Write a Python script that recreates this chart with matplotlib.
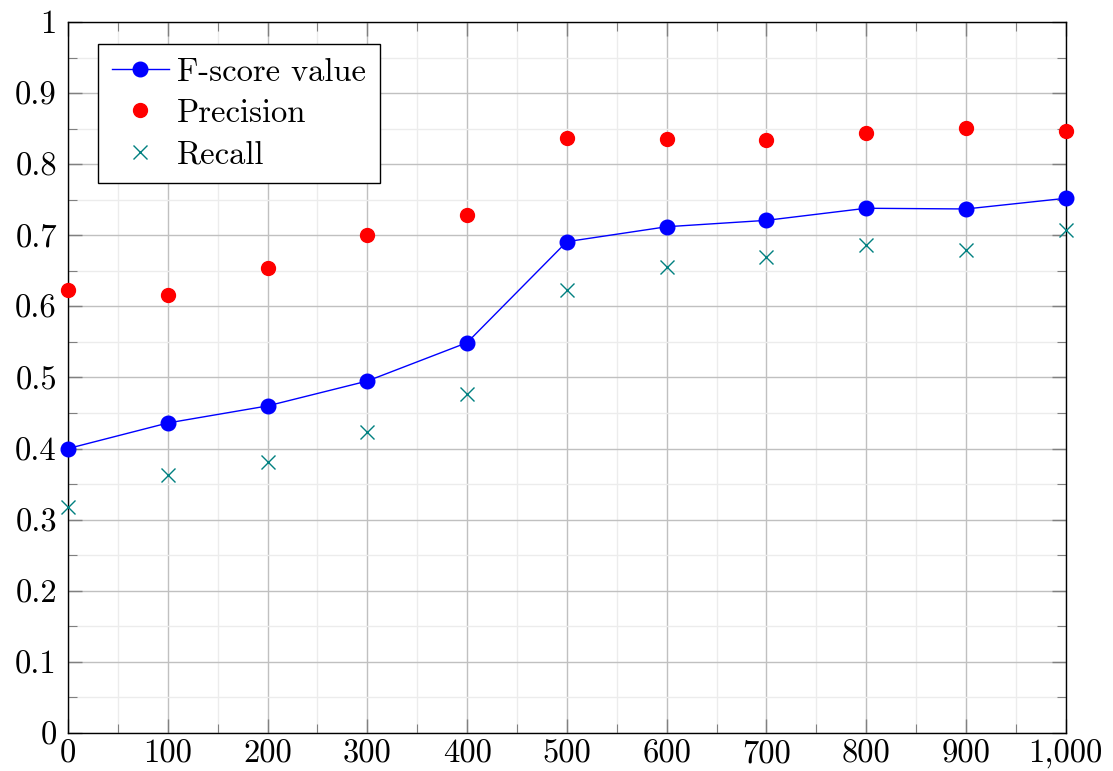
import matplotlib
matplotlib.use("Agg")
import matplotlib.pyplot as plt
from matplotlib.ticker import MultipleLocator, FuncFormatter

x_values = [0, 100, 200, 300, 400, 500, 600, 700, 800, 900, 1000]
fscore = [0.400, 0.436, 0.460, 0.495, 0.549, 0.691, 0.712, 0.721, 0.738, 0.737, 0.752]
precision = [0.623, 0.616, 0.654, 0.700, 0.728, 0.837, 0.836, 0.834, 0.844, 0.851, 0.847]
recall = [0.318, 0.363, 0.381, 0.423, 0.477, 0.623, 0.656, 0.669, 0.686, 0.679, 0.707]

plt.rcParams['font.family'] = 'serif'
plt.rcParams['font.serif'] = ['cmr10', 'DejaVu Serif']
plt.rcParams['mathtext.fontset'] = 'cm'
plt.rcParams['axes.formatter.use_mathtext'] = True

FS = 23.5

fig = plt.figure(figsize=(11.13, 7.71), dpi=100)
ax = fig.add_axes([0.0611, 0.0493, 0.9575 - 0.0611, 0.9715 - 0.0493])

ax.plot(x_values, fscore, color='#0000ff', lw=1.0, marker='o', ms=10.5,
        label='F-score value', zorder=5, clip_on=False)
ax.plot(x_values, precision, ls='none', color='#ff0000', marker='o', ms=10,
        label='Precision', zorder=5, clip_on=False)
ax.plot(x_values, recall, ls='none', color='#008080', marker='x', ms=10.5,
        mew=1.0, label='Recall', zorder=5, clip_on=False)

ax.set_xlim(0, 1000)
ax.set_ylim(0, 1)
ax.xaxis.set_major_locator(MultipleLocator(100))
ax.xaxis.set_minor_locator(MultipleLocator(50))
ax.yaxis.set_major_locator(MultipleLocator(0.1))
ax.yaxis.set_minor_locator(MultipleLocator(0.05))

ax.xaxis.set_major_formatter(FuncFormatter(lambda v, p: f"{int(round(v)):,}"))
ax.yaxis.set_major_formatter(FuncFormatter(lambda v, p: "0" if abs(v) < 1e-9 else ("1" if abs(v-1) < 1e-9 else f"{v:.1f}")))

ax.grid(True, which='major', color='#c0c0c0', lw=1.0, zorder=0)
ax.grid(True, which='minor', color='#ececec', lw=1.0, zorder=0)
ax.set_axisbelow(True)

ax.tick_params(which='both', direction='in', top=True, right=True,
               labelsize=FS, color='#808080')
ax.tick_params(axis='y', which='both', pad=8)
ax.tick_params(axis='x', which='both', pad=5)
ax.tick_params(which='major', length=10, width=1.0)
ax.tick_params(which='minor', length=6.5, width=0.8)

for s in ax.spines.values():
    s.set_color('black')
    s.set_linewidth(1.0)

leg = ax.legend(loc='upper left', bbox_to_anchor=(0.030, 0.969), borderaxespad=0,
                fontsize=FS, fancybox=False, framealpha=1, edgecolor='black',
                handlelength=1.75, handletextpad=0.25, labelspacing=0.37,
                borderpad=0.42)
leg.get_frame().set_linewidth(1.0)

fig.savefig('out.png', dpi=100)
